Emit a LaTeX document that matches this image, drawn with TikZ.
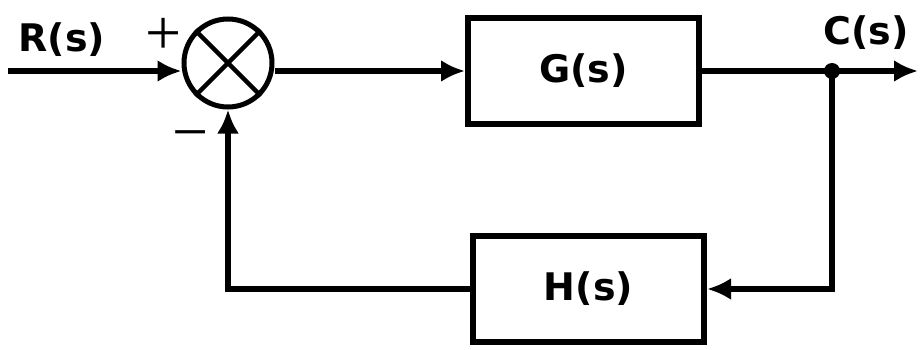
\documentclass[tikz,border=0pt]{standalone}
\usepackage{fontspec}
\setmainfont{DejaVu Sans}
\newfontfamily\signfont{Liberation Serif}
\usetikzlibrary{arrows.meta}

\begin{document}
\begin{tikzpicture}[x=1pt,y=-1pt,
	block/.style={ draw, line width=6pt, minimum width=231pt, minimum height=106pt, inner sep=0pt, font=\fontsize{38}{44}\selectfont\bfseries },
	sumnode/.style={ circle, draw, line width=5pt, minimum size=88pt, inner sep=0pt },
	signame/.style={ inner sep=0pt, font=\fontsize{38}{44}\selectfont\bfseries },
	sign/.style={ inner sep=0pt, font=\fontsize{64}{68}\signfont },
	junction/.style={ circle, fill, inner sep=0pt, minimum size=16pt },
	wire/.style={ line width=6pt },
	signal/.style={ line width=6pt, -{Latex[length=24pt,width=22pt]} }
]
\useasboundingbox (0,0) rectangle (920,350);

\node at (228,63) (sum) [sumnode] {};
\draw[line width=4.5pt] (sum.north east) -- (sum.south west);
\draw[line width=4.5pt] (sum.north west) -- (sum.south east);

\node at (583.5,71) (g) [block] {G(s)};
\node at (588.5,289) (h) [block] {H(s)};

\node at (62,40) (rs) [signame] {R(s)};
\node at (866,33) (cs) [signame] {C(s)};
\node at (164,36) (plus) [sign] {+};
\node at (191,142) (minus) [sign] {−};

\coordinate (in) at (8,71);
\coordinate (out) at (918,71);
\node at (832,71) (dot) [junction] {};

\draw[signal] (in) -- (in -| sum.west);
\draw[signal] (sum.east |- g) -- (g.west);
\draw[wire] (g.east) -- (dot.center);
\draw[signal] (dot.center) -- (out);
\draw[signal] (dot.center) |- (h.east);
\draw[signal] (h.west) -| (sum.south);

\end{tikzpicture}
\end{document}
